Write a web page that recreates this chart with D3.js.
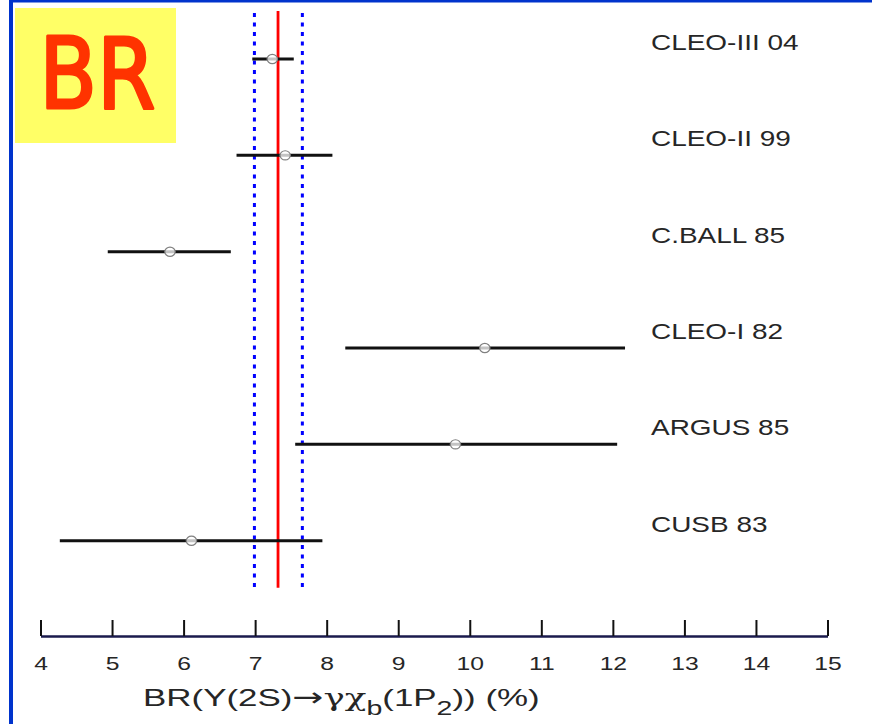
<!DOCTYPE html>
<html>
<head>
<meta charset="utf-8">
<script src="https://cdn.jsdelivr.net/npm/d3@7"></script>
<style>
  html, body { margin: 0; padding: 0; background: #ffffff; }
  svg { display: block; }
</style>
</head>
<body>
<script>
// Branching fraction measurements, one row per experiment (values in %)
const experiments = ["CLEO-III 04", "CLEO-II 99", "C.BALL 85", "CLEO-I 82", "ARGUS 85", "CUSB 83"];
const central = [7.24, 7.42, 5.81, 10.21, 9.80, 6.11];
const lower   = [6.96, 6.74, 4.94, 8.26, 7.56, 4.27];
const upper   = [7.54, 8.08, 6.66, 12.17, 12.06, 7.94];

// World average and its band
const average = 7.32;
const averageLow = 6.99;
const averageHigh = 7.66;

const xTicks = [4, 5, 6, 7, 8, 9, 10, 11, 12, 13, 14, 15];

const W = 872, H = 724;
const svg = d3.select("body").append("svg").attr("width", W).attr("height", H);

// Frame: blue rule along the top and left edge
svg.append("rect").attr("x", 9).attr("y", 0).attr("width", W - 9).attr("height", 2.5).attr("fill", "#0033cc");
svg.append("rect").attr("x", 9).attr("y", 0).attr("width", 4).attr("height", H).attr("fill", "#0033cc");

const x = d3.scaleLinear().domain([4, 15]).range([40.5, 827.5]);
const y = d3.scalePoint().domain(experiments).range([59, 540.7]);

const SX = 1.3; // horizontal stretch used for all plot lettering
const FONT = "'Liberation Sans', Arial, Helvetica, sans-serif";
const INK = "#262626";

// "BR" badge
svg.append("rect").attr("x", 15).attr("y", 8).attr("width", 161).attr("height", 135).attr("fill", "#ffff66");
svg.append("text")
  .attr("transform", `translate(97.5,108) scale(0.86,1)`)
  .attr("text-anchor", "middle")
  .attr("font-family", "'Comic Sans MS', 'DejaVu Sans', sans-serif")
  .attr("font-size", 98)
  .attr("fill", "#ff3300")
  .attr("stroke", "#ff3300")
  .attr("stroke-width", 3)
  .attr("stroke-linejoin", "round")
  .text("BR");

// Average line and uncertainty band edges
const yTop = y(experiments[0]) - 48;
const yBot = y(experiments[experiments.length - 1]) + 47;
[averageLow, averageHigh].forEach(v => {
  svg.append("line")
    .attr("x1", x(v)).attr("x2", x(v))
    .attr("y1", yTop + 2).attr("y2", yBot)
    .attr("stroke", "#0000ff").attr("stroke-width", 3)
    .attr("stroke-dasharray", "4 5.5");
});
svg.append("line")
  .attr("x1", x(average)).attr("x2", x(average))
  .attr("y1", yTop).attr("y2", yBot)
  .attr("stroke", "#ff0000").attr("stroke-width", 2.8);

// Error bars
const rows = experiments.map((name, i) => ({ name, c: central[i], lo: lower[i], hi: upper[i] }));
svg.append("g").selectAll("line").data(rows).join("line")
  .attr("x1", d => x(d.lo)).attr("x2", d => x(d.hi))
  .attr("y1", d => y(d.name)).attr("y2", d => y(d.name))
  .attr("stroke", "#111").attr("stroke-width", 3);

// Central value markers
svg.append("g").selectAll("ellipse").data(rows).join("ellipse")
  .attr("cx", d => x(d.c)).attr("cy", d => y(d.name))
  .attr("rx", 5.2).attr("ry", 4.6)
  .attr("fill", "#ffffff").attr("fill-opacity", 0.75)
  .attr("stroke", "#808080").attr("stroke-width", 1.2);

// Experiment labels
svg.append("g").selectAll("text").data(rows).join("text")
  .attr("transform", d => `translate(651,${y(d.name) - 9}) scale(${SX},1)`)
  .attr("font-family", FONT).attr("font-size", 21.5)
  .attr("fill", INK)
  .text(d => d.name);

// X axis: ticks point up, labels below
const axis = d3.axisBottom(x).tickValues(xTicks).tickFormat(d3.format("d"))
  .tickSize(-16).tickSizeOuter(0).tickPadding(21);
const gx = svg.append("g").attr("transform", "translate(0,636)").call(axis);
gx.select(".domain").attr("stroke", "#1a1a4d").attr("stroke-width", 2.6);
gx.selectAll(".tick line").attr("stroke", "#111").attr("stroke-width", 2);
gx.selectAll(".tick text")
  .attr("font-family", FONT).attr("font-size", 19)
  .attr("fill", INK)
  .attr("transform", `scale(${SX},1)`)
  .attr("x", 0);

// Axis title
const title = svg.append("text")
  .attr("font-family", FONT).attr("font-size", 24.5)
  .attr("fill", INK);
title.append("tspan").text("BR(Υ(2S)");
title.append("tspan").attr("font-family", "'DejaVu Sans', sans-serif").attr("font-size", 26).text("→");
title.append("tspan").attr("font-family", "'DejaVu Serif', serif").attr("font-size", 25).text("γχ");
title.append("tspan").attr("font-size", 20).attr("dy", 9).text("b");
title.append("tspan").attr("dy", -9).text("(1P");
title.append("tspan").attr("font-size", 20).attr("dy", 9).text("2");
title.append("tspan").attr("dy", -9).text(")) (%)");
const tw = title.node().getComputedTextLength();
title.attr("transform", `translate(143,706) scale(${397 / tw},1)`);
</script>
</body>
</html>
